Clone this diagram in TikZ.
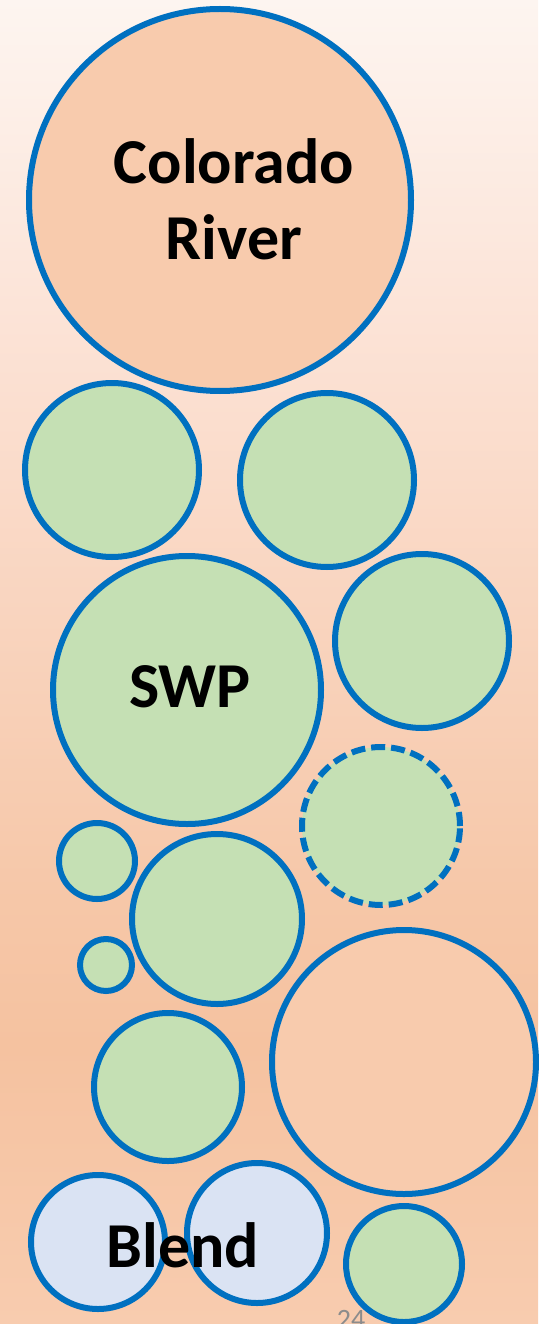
\documentclass[tikz,border=0pt]{standalone}
\usepackage{fontspec}
\setmainfont{Carlito}
\definecolor{ring}{HTML}{0070C0}
\definecolor{leaf}{HTML}{C5E0B4}
\definecolor{peach}{HTML}{F8CBAD}
\definecolor{mist}{HTML}{DAE3F3}
\definecolor{pagegray}{HTML}{8C8C8C}
\definecolor{bgA}{HTML}{F8CCAF}
\definecolor{bgB}{HTML}{F5C2A0}
\definecolor{bgC}{HTML}{F6C7A8}
\definecolor{bgD}{HTML}{F9D5C0}
\definecolor{bgE}{HTML}{FCE4D8}
\definecolor{bgF}{HTML}{FDF5F0}
% the shaded rectangle spans 25bp..75bp of the shading
\pgfdeclareverticalshading{backdrop}{100bp}{%
  color(0bp)=(bgA); color(25bp)=(bgA); color(35.5bp)=(bgB); color(41bp)=(bgC);
  color(52.5bp)=(bgD); color(63.5bp)=(bgE); color(75bp)=(bgF); color(100bp)=(bgF)}
\tikzset{
  bubble/.style={circle, draw=ring, line width=6pt, inner sep=0pt},
  greenbub/.style={bubble, fill=leaf},
  peachbub/.style={bubble, fill=peach},
  bluebub/.style={bubble, fill=mist},
  bigword/.style={font=\fontsize{64}{76}\selectfont\bfseries, align=center, text=black, inner sep=0pt},
}
\begin{document}
\begin{tikzpicture}[x=1pt,y=-1pt]
  \useasboundingbox (0,0) rectangle (538,1324);
  \shade[shading=backdrop] (0,0) rectangle (538,1324);

  % sources
  \node[peachbub, minimum size=382pt] (colorado) at (220,200) {};
  \node[greenbub, minimum size=174pt] (g1) at (112,470) {};
  \node[greenbub, minimum size=174pt] (g2) at (327,480) {};
  \node[greenbub, minimum size=268pt] (swp) at (187,690) {};
  \node[greenbub, minimum size=174pt] (g3) at (422,641) {};
  \node[greenbub, minimum size=158pt, dash pattern=on 14pt off 6pt] (g4) at (381,826) {};
  \node[greenbub, minimum size=76pt] (g5) at (97,861) {};
  \node[greenbub, minimum size=170pt] (g6) at (217,919) {};
  \node[greenbub, minimum size=52pt] (g7) at (106,965) {};
  \node[greenbub, minimum size=148pt] (g8) at (168,1087) {};
  \node[peachbub, minimum size=264pt] (p2) at (404,1062) {};
  \node[bluebub, minimum size=134pt] (b1) at (98,1242) {};
  \node[bluebub, minimum size=140pt] (b2) at (257,1233) {};
  \node[greenbub, minimum size=116pt] (g9) at (404,1264) {};

  % labels
  \node[bigword] (lcolorado) at (234,199) {Colorado\\River};
  \node[bigword] (lswp) at (190,687) {SWP};
  \node[bigword] (lblend) at (183,1245) {Blend};
  \node[anchor=base, inner sep=0pt, text=pagegray, font=\fontsize{28}{30}\selectfont] (pagenum) at (351,1328) {24};
\end{tikzpicture}
\end{document}
